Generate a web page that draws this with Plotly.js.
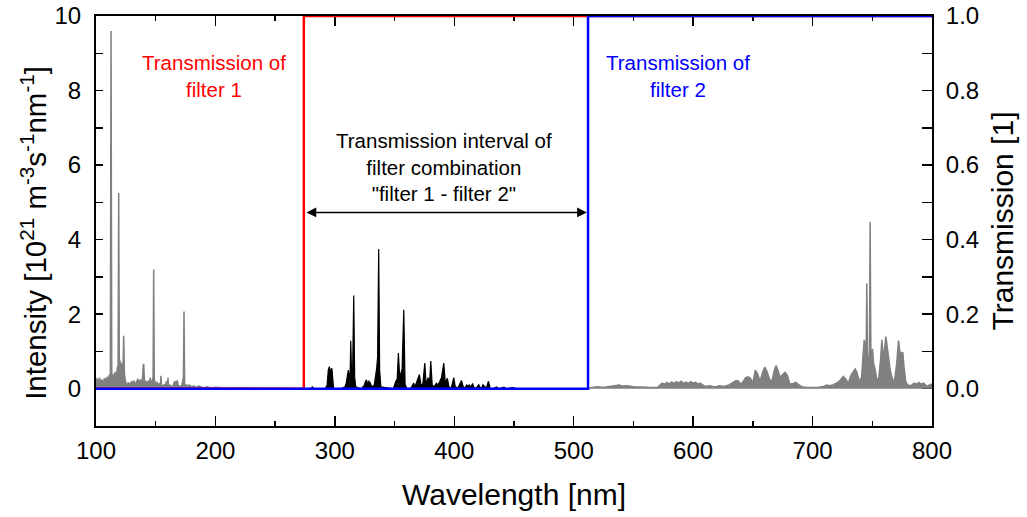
<!DOCTYPE html>
<html>
<head>
<meta charset="utf-8">
<script src="https://cdn.plot.ly/plotly-3.0.1.min.js"></script>
<style>html,body{margin:0;padding:0;background:#fff;}#chart{width:1027px;height:517px;}</style>
</head>
<body>
<div id="chart"></div>
<script>
// Gray spectrum, short wavelengths (outside filter interval)
const uvX = [100,101,102,103,104,105,106,107,108,109,110,111,112,112.6,113.2,114,115,116,117,118,118.5,119,119.5,120,121,122,122.6,123.2,123.8,125,126,127,128,129,130,131,132,133,134,135,136,137,138,139,139.6,140,140.4,141,142,143,144,145,145.4,146,147,147.8,148.3,148.8,150,151,152,153,154,154.4,154.8,156,157,158,159,160,160.3,160.6,162,164,166,167,168,169,171,172,173.2,173.7,174.2,175,176,177,178,180,182,184,186,190,193,196,200,210,220,240,260,275];
const uvY = [0.2,0.28,0.12,0.3,0.15,0.25,0.1,0.28,0.18,0.32,0.2,0.35,0.4,9.6,0.3,0.4,0.25,0.45,0.3,0.6,0.5,5.25,0.8,0.75,0.55,0.7,0.5,1.42,0.4,0.15,0.08,0.17,0.1,0.15,0.2,0.1,0.22,0.08,0.2,0.27,0.1,0.25,0.12,0.3,0.65,0.65,0.3,0.15,0.2,0.1,0.22,0.12,0.3,0.15,0.2,0.3,3.2,0.25,0.12,0.18,0.06,0.15,0.1,0.35,0.1,0.06,0.12,0.05,0.2,0.08,0.3,0.06,0.1,0.04,0.2,0.15,0.22,0.08,0.05,0.12,0.3,2.07,0.15,0.08,0.1,0.04,0.1,0.05,0.08,0.03,0.08,0.02,0.05,0.02,0.04,0.01,0.02,0.01,0,0,0];

// Black spectrum, inside the filter combination interval
const visX = [275,280,280.8,281.2,281.6,285,292,293.5,294.5,295.4,296.3,297.5,298.3,299,305,308.5,309.5,310.5,311.3,312,312.7,313.3,314,314.8,315.8,316.6,317.5,322,324.5,325.5,326.5,327.5,328.5,329.5,331,333,334,335,335.8,336.7,337.5,338.5,349,350.2,351,352.2,353.2,354.3,355.3,356.3,357.7,358.8,360,363,364.3,366,367,368.5,370.8,372,373.5,375.3,376.5,378,379.3,380.3,381.5,383,385,386.5,388,389.3,391.2,392.5,394.2,395.5,397.5,399.6,400.8,403,406,407.5,409,410.5,411.5,412.5,413.8,415.3,416.5,418.5,420.4,421.5,423,424,425.5,427,428.6,430,432,435.6,437,441.7,443,449.5,452,470,490,512];
const visY = [0,0,0.02,0.06,0.02,0,0,0.1,0.5,0.59,0.45,0.55,0.2,0,0,0.05,0.15,0.3,0.5,0.35,0.2,1.29,0.4,0.3,2.5,0.3,0.05,0,0.08,0.18,0.24,0.12,0.2,0.16,0.05,0.1,0.3,0.55,0.85,3.75,0.5,0.05,0,0.15,0.2,0.26,0.96,0.3,0.39,0.53,2.12,0.12,0.02,0,0.05,0.15,0.05,0.2,0.38,0.12,0.08,0.69,0.08,0.3,0.15,0.74,0.1,0.05,0.15,0.1,0.2,0.3,0.69,0.15,0.28,0.05,0.02,0.3,0.05,0.02,0.22,0.05,0.02,0.11,0.04,0.11,0.03,0.14,0.03,0.02,0.11,0.04,0.03,0.11,0.05,0.03,0.2,0.02,0,0.05,0,0.04,0,0.03,0,0,0,0];

// Gray spectrum, long wavelengths (outside filter interval)
const irX = [512,515,520,525,530,535,538,541,545,550,555,560,565,570,572,574,576,578,580,582,584,586,588,590,592,594,596,598,600,602,604,606,608,610,614,618,622,626,630,633,636,638,640,642,644,646,648,650,652,654,656,658,660,662,664,666,668,669.5,671,673,675,677,679,681,684,686,688,691,695,700,705,709,712,714,717,720,723,725.7,728,730,732,734,735.7,737,739,741,743.2,744,744.8,745.4,746,747,747.6,748.2,748.8,749.5,750.2,751,752.5,754,755.5,757,758,759,760,761.4,762.5,763.6,765,766.5,767.8,769,770.5,772,773,774.5,775.6,776.5,778,779.5,782,785,787,789,791,793,796,798,800];
const irY = [0,0.03,0.05,0.03,0.06,0.08,0.1,0.07,0.08,0.05,0.04,0.03,0.03,0.03,0.1,0.15,0.12,0.17,0.13,0.18,0.14,0.19,0.15,0.2,0.14,0.18,0.14,0.19,0.15,0.17,0.13,0.15,0.1,0.06,0.08,0.05,0.08,0.06,0.1,0.15,0.22,0.2,0.12,0.2,0.3,0.32,0.28,0.15,0.5,0.4,0.2,0.42,0.58,0.45,0.25,0.2,0.5,0.62,0.5,0.3,0.38,0.44,0.35,0.12,0.14,0.17,0.12,0.05,0.03,0.03,0.04,0.06,0.1,0.08,0.1,0.15,0.22,0.33,0.25,0.15,0.35,0.45,0.53,0.45,0.2,0.3,1.31,1.2,0.6,2.83,0.8,0.7,1.0,4.47,1.0,0.9,1.07,0.7,0.5,0.2,0.3,0.8,1.31,0.9,1.0,1.4,1.1,0.93,0.5,0.3,0.17,0.3,0.7,1.29,1.0,0.95,0.98,0.6,0.2,0.1,0.08,0.15,0.12,0.17,0.12,0.15,0.06,0.1,0.13];

// Filter transmission curves
const filter1X = [100,274,274,800];
const filter1Y = [0,0,1,1];
const filter2X = [100,512,512,800];
const filter2Y = [0,0,1,1];

// Tick values
const xTicks = [100,200,300,400,500,600,700,800];
const yTicks = [0,2,4,6,8,10];
const y2Ticks = [0,0.2,0.4,0.6,0.8,1.0];
const y2Labels = ['0.0','0.2','0.4','0.6','0.8','1.0'];

const FONT = 'Liberation Sans, Arial, sans-serif';
const GRAY = '#808080';

const traces = [
  {x: uvX, y: uvY, type: 'scatter', mode: 'lines', fill: 'tozeroy', fillcolor: GRAY,
   line: {color: GRAY, width: 1.5}, hoverinfo: 'skip', yaxis: 'y'},
  {x: irX, y: irY, type: 'scatter', mode: 'lines', fill: 'tozeroy', fillcolor: GRAY,
   line: {color: GRAY, width: 1.5}, hoverinfo: 'skip', yaxis: 'y'},
  {x: visX, y: visY, type: 'scatter', mode: 'lines', fill: 'tozeroy', fillcolor: '#000',
   line: {color: '#000', width: 1.2}, hoverinfo: 'skip', yaxis: 'y'},
  {x: filter1X, y: filter1Y, type: 'scatter', mode: 'lines', line: {color: '#ff0000', width: 2.5},
   yaxis: 'y2', cliponaxis: false},
  {x: filter2X, y: filter2Y, type: 'scatter', mode: 'lines', line: {color: '#0000ff', width: 2.5},
   yaxis: 'y2', cliponaxis: false}
];

const layout = {
  width: 1027, height: 517,
  margin: {l: 96, r: 95, t: 16, b: 91},
  paper_bgcolor: '#fff', plot_bgcolor: '#fff',
  showlegend: false,
  font: {family: FONT, color: '#000'},
  xaxis: {
    range: [100, 800], tickvals: xTicks, ticks: 'inside', ticklen: 10, tickwidth: 1.5, tickcolor: '#000',
    minor: {dtick: 50, ticks: 'inside', ticklen: 5, tickwidth: 1.5, tickcolor: '#000'},
    showline: true, linecolor: '#000', linewidth: 2, mirror: 'ticks',
    showgrid: false, zeroline: false, layer: 'below traces',
    tickfont: {size: 24, family: FONT}, ticklabelstandoff: 2,
    title: {text: 'Wavelength [nm]', font: {size: 30, family: FONT}, standoff: 21}
  },
  yaxis: {
    range: [-1, 10], tickvals: yTicks, ticks: 'inside', ticklen: 7, tickwidth: 1.5, tickcolor: '#000',
    minor: {dtick: 1, ticks: 'inside', ticklen: 7, tickwidth: 1.5, tickcolor: '#000'},
    showline: true, linecolor: '#000', linewidth: 2,
    showgrid: false, zeroline: false, layer: 'below traces',
    tickfont: {size: 24, family: FONT}, ticklabelstandoff: 8
  },
  yaxis2: {
    range: [-0.1, 1.0], overlaying: 'y', side: 'right',
    tickvals: y2Ticks, ticktext: y2Labels, ticks: 'inside', ticklen: 10, tickwidth: 1.5, tickcolor: '#000',
    minor: {dtick: 0.1, ticks: 'inside', ticklen: 10, tickwidth: 1.5, tickcolor: '#000'},
    showline: true, linecolor: '#000', linewidth: 2,
    showgrid: false, zeroline: false, layer: 'below traces',
    tickfont: {size: 24, family: FONT}, ticklabelstandoff: 7,
    title: {text: 'Transmission [1]', font: {size: 30, family: FONT}, standoff: 14}
  },
  annotations: [
    {x: -0.0742, y: 0.471, xref: 'paper', yref: 'paper', xanchor: 'center', yanchor: 'middle',
     text: 'Intensity [10<sup>21</sup> m<sup>-3</sup>s<sup>-1</sup>nm<sup>-1</sup>]', textangle: -90, showarrow: false,
     font: {size: 29.5, color: '#000', family: FONT}},
    {x: 198.5, y: 8.4, xref: 'x', yref: 'y', text: 'Transmission of<br>filter 1', showarrow: false,
     font: {size: 20.5, color: '#ff0000', family: FONT}, align: 'center'},
    {x: 587, y: 8.4, xref: 'x', yref: 'y', text: 'Transmission of<br>filter 2', showarrow: false,
     font: {size: 20.5, color: '#0000ff', family: FONT}, align: 'center'},
    {x: 391, y: 5.96, xref: 'x', yref: 'y', text: 'Transmission interval of<br>filter combination<br>"filter 1 - filter 2"', showarrow: false,
     font: {size: 20.5, color: '#000', family: FONT}, align: 'center'},
    {x: 511, y: 4.73, ax: 275, ay: 4.73, xref: 'x', yref: 'y', axref: 'x', ayref: 'y', text: '',
     showarrow: true, arrowhead: 2, startarrowhead: 2, arrowside: 'end+start', arrowsize: 1.3, startarrowsize: 1.3,
     arrowwidth: 1.5, arrowcolor: '#000', standoff: 0, startstandoff: 0}
  ]
};

Plotly.newPlot('chart', traces, layout, {displayModeBar: false, staticPlot: true});
</script>
</body>
</html>
